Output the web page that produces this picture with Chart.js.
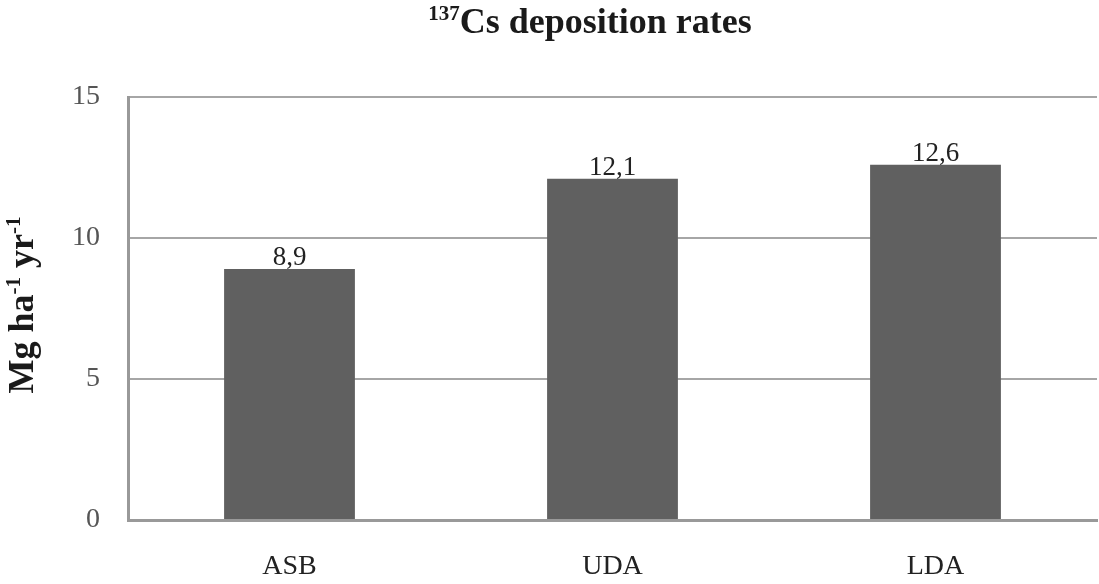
<!DOCTYPE html>
<html>
<head>
<meta charset="utf-8">
<style>
  html, body { margin: 0; padding: 0; background: #fff; }
  #wrap { width: 1099px; height: 584px; }
</style>
<script src="https://cdn.jsdelivr.net/npm/chart.js@4.4.1/dist/chart.umd.min.js"></script>
</head>
<body>
<div id="wrap"><canvas id="myChart" width="1099" height="584"></canvas></div>
<script>
// Data
let sites = ["ASB", "UDA", "LDA"];
let depositionRates = [8.9, 12.1, 12.6];
let rateLabels = ["8,9", "12,1", "12,6"];
let yTicks = [0, 5, 10, 15];

let serif = "'Liberation Serif', 'DejaVu Serif', serif";

// draws the text with a superscript part, pieces = [[text, isSup], ...]
function drawPieces(ctx, pieces, x, y, size, supSize, weight) {
  let total = 0;
  for (let p of pieces) {
    ctx.font = weight + " " + (p[1] ? supSize : size) + "px " + serif;
    total += ctx.measureText(p[0]).width;
  }
  let cx = x - total / 2;
  for (let p of pieces) {
    ctx.font = weight + " " + (p[1] ? supSize : size) + "px " + serif;
    ctx.fillText(p[0], cx, p[1] ? y - size * 0.36 : y);
    cx += ctx.measureText(p[0]).width;
  }
}

// Title, y axis title and the labels on top of the bars
const textPlugin = {
  id: "textPlugin",
  afterDraw(chart) {
    const ctx = chart.ctx;
    ctx.save();
    ctx.fillStyle = "#1a1a1a";
    ctx.textBaseline = "alphabetic";
    ctx.textAlign = "left";
    drawPieces(ctx, [["137", true], ["Cs deposition rates", false]], 590, 33, 36, 21, "bold");

    ctx.save();
    ctx.translate(33, 305);
    ctx.rotate(-Math.PI / 2);
    drawPieces(ctx, [["Mg ha", false], ["-1", true], [" yr", false], ["-1", true]], 0, 0, 36, 21, "bold");
    ctx.restore();

    // value labels
    const meta = chart.getDatasetMeta(0);
    ctx.font = "27px " + serif;
    ctx.textAlign = "center";
    ctx.fillStyle = "#222";
    meta.data.forEach((bar, i) => {
      ctx.fillText(rateLabels[i], bar.x, bar.y - 4);
    });
    ctx.restore();
  }
};

const data = {
  labels: sites,
  datasets: [
    {
      label: "deposition",
      data: depositionRates,
      backgroundColor: "#606060",
      borderWidth: 0,
      categoryPercentage: 1,
      barPercentage: 0.405,
    },
  ],
};

const config = {
  type: "bar",
  data: data,
  options: {
    responsive: false,
    animation: false,
    layout: { padding: { top: 97, right: 2, left: 0, bottom: 0 } },
    plugins: {
      legend: { display: false },
      tooltip: { enabled: false },
    },
    scales: {
      x: {
        grid: { display: false },
        border: { color: "#999999", width: 3 },
        ticks: { color: "#222", font: { family: serif, size: 28 }, padding: 22 },
        afterFit(scale) { scale.height = 64; },
      },
      y: {
        min: 0,
        max: 15,
        afterBuildTicks(scale) { scale.ticks = yTicks.map(v => ({ value: v })); },
        grid: { color: "#a6a6a6", lineWidth: 2, drawTicks: false },
        border: { color: "#999999", width: 3 },
        ticks: { color: "#555", font: { family: serif, size: 28 }, padding: 28 },
        afterFit(scale) { scale.width = 128; },
      },
    },
  },
  plugins: [textPlugin],
};

const canvasChart = document.getElementById("myChart").getContext("2d");
const myChart = new Chart(canvasChart, config);
</script>
</body>
</html>
